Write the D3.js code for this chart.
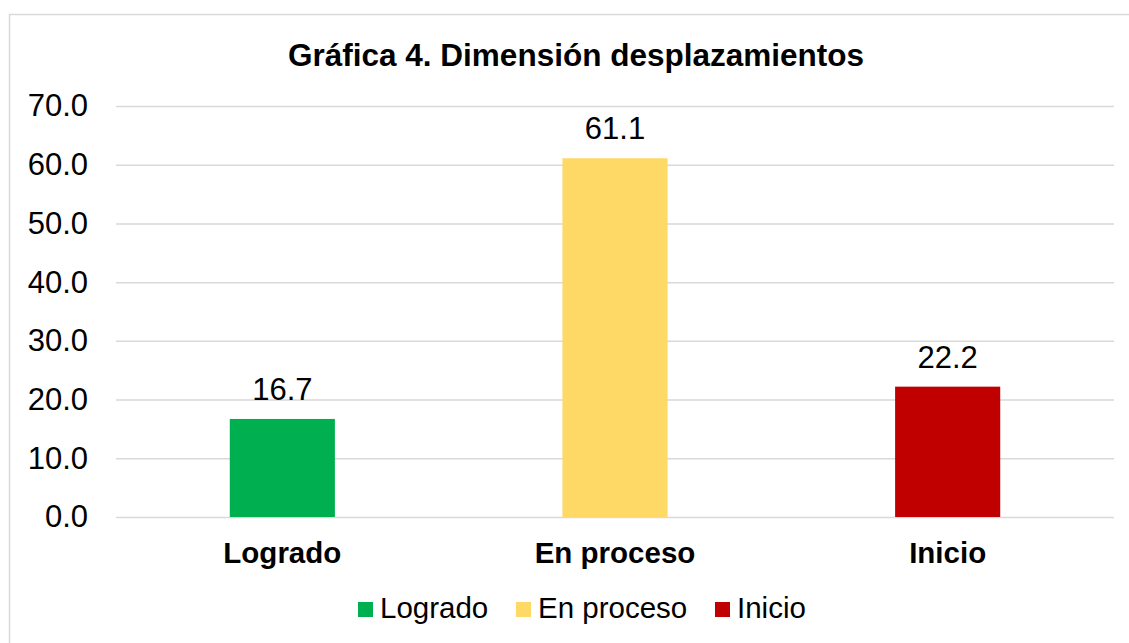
<!DOCTYPE html>
<html><head><meta charset="utf-8">
<script src="https://cdn.jsdelivr.net/npm/d3@7"></script>
<style>body{margin:0;background:#fff}svg{display:block;font-family:"Liberation Sans",Arial,sans-serif}</style>
</head><body>
<svg id="c" width="1129" height="643"></svg>
<script>
const categories = ["Logrado", "En proceso", "Inicio"];
const values = [16.7, 61.1, 22.2];
const colors = ["#00B050", "#FFD966", "#C00000"];
const yTicks = [0, 10, 20, 30, 40, 50, 60, 70];
const title = "Gráfica 4. Dimensión desplazamientos";

(function () {
const svg = d3.select("#c");
svg.append("rect").attr("x", 9.5).attr("y", 14.5).attr("width", 1140).attr("height", 650)
  .attr("fill", "#fff").attr("stroke", "#d9d9d9").attr("stroke-width", 1.5);

const mLeft = 116, mRight = 1114, mTop = 106, mBottom = 517;
const x = d3.scaleBand().domain(categories).range([mLeft, mRight]).paddingInner(0.684).paddingOuter(0.342);
const y = d3.scaleLinear().domain([0, 70]).range([mBottom, mTop]);

const grid = svg.append("g").attr("transform", `translate(${mLeft},0)`)
  .call(d3.axisLeft(y).tickValues(yTicks).tickSize(-(mRight - mLeft)).tickFormat(d3.format(".1f")));
grid.select(".domain").remove();
grid.selectAll(".tick line").attr("stroke", "#d9d9d9").attr("stroke-width", 1.5);
grid.selectAll(".tick text").attr("x", -28).attr("font-size", 31).attr("fill", "#000")
  .attr("font-family", "Liberation Sans, Arial, sans-serif");

svg.append("g").selectAll("rect").data(values).join("rect")
  .attr("x", (d, i) => x(categories[i])).attr("width", x.bandwidth())
  .attr("y", d => y(d)).attr("height", d => y(0) - y(d))
  .attr("fill", (d, i) => colors[i]);

svg.append("g").selectAll("text").data(values).join("text")
  .attr("x", (d, i) => x(categories[i]) + x.bandwidth() / 2)
  .attr("y", d => y(d) - 19).attr("text-anchor", "middle")
  .attr("font-size", 31).text(d => d.toFixed(1));

const xa = svg.append("g").attr("transform", `translate(0,${mBottom})`)
  .call(d3.axisBottom(x).tickSize(0).tickPadding(0));
xa.select(".domain").remove();
xa.selectAll(".tick text").attr("y", 46).attr("dy", 0).attr("font-size", 29.5).attr("font-weight", "bold")
  .attr("fill", "#000").attr("font-family", "Liberation Sans, Arial, sans-serif");

svg.append("text").attr("x", 576).attr("y", 66).attr("text-anchor", "middle")
  .attr("font-size", 31.5).attr("font-weight", "bold").text(title);

const legendX = [358, 516, 715];
const lg = svg.append("g").selectAll("g").data(categories).join("g")
  .attr("transform", (d, i) => `translate(${legendX[i]},602)`);
lg.append("rect").attr("width", 15).attr("height", 15).attr("fill", (d, i) => colors[i]);
lg.append("text").attr("x", 22).attr("y", 16).attr("font-size", 29.5).text(d => d);
})();
</script>
</body></html>
